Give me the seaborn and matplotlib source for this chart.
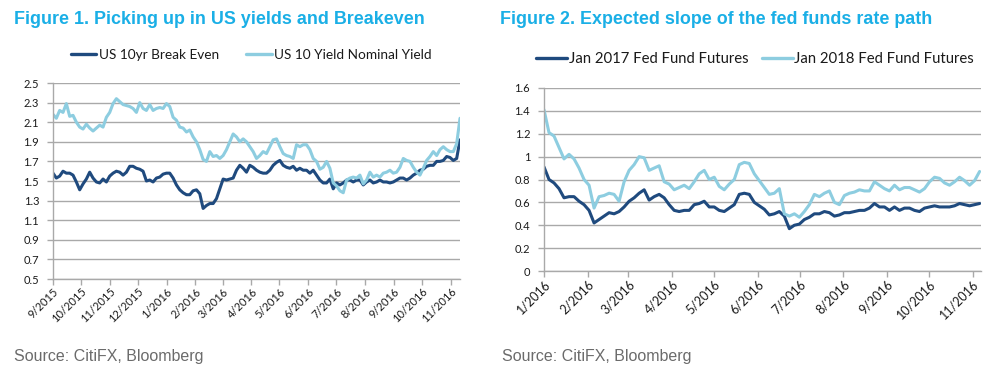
import numpy as np
import pandas as pd
import matplotlib
matplotlib.use('Agg')
import matplotlib.pyplot as plt
import matplotlib.dates as mdates
from matplotlib.ticker import FuncFormatter
from matplotlib.lines import Line2D
import seaborn as sns

# ---------------- data ----------------
left_dates = pd.date_range('2015-09-01', '2016-11-11', periods=123)
breakeven = [
    1.58, 1.53, 1.55, 1.60, 1.58, 1.58, 1.56, 1.49, 1.41, 1.47,
    1.52, 1.59, 1.53, 1.49, 1.48, 1.52, 1.49, 1.55, 1.58, 1.60,
    1.59, 1.56, 1.59, 1.65, 1.65, 1.63, 1.62, 1.60, 1.50, 1.51,
    1.49, 1.53, 1.54, 1.57, 1.58, 1.58, 1.53, 1.46, 1.41, 1.38,
    1.36, 1.36, 1.40, 1.41, 1.37, 1.22, 1.25, 1.27, 1.27, 1.32,
    1.42, 1.52, 1.51, 1.52, 1.53, 1.61, 1.66, 1.63, 1.59, 1.66,
    1.64, 1.61, 1.59, 1.58, 1.58, 1.61, 1.66, 1.69, 1.71, 1.66,
    1.64, 1.63, 1.65, 1.61, 1.63, 1.61, 1.61, 1.58, 1.61, 1.56,
    1.51, 1.48, 1.48, 1.52, 1.42, 1.48, 1.46, 1.48, 1.51, 1.51,
    1.49, 1.51, 1.51, 1.46, 1.49, 1.51, 1.48, 1.49, 1.51, 1.49,
    1.49, 1.48, 1.49, 1.51, 1.53, 1.53, 1.51, 1.53, 1.56, 1.58,
    1.61, 1.62, 1.65, 1.66, 1.66, 1.70, 1.70, 1.71, 1.75, 1.74,
    1.71, 1.73, 1.92,
]
nominal = [
    2.18, 2.14, 2.22, 2.20, 2.29, 2.16, 2.17, 2.10, 2.05, 2.03,
    2.08, 2.04, 2.01, 2.04, 2.07, 2.05, 2.15, 2.20, 2.29, 2.34,
    2.31, 2.28, 2.27, 2.26, 2.24, 2.20, 2.30, 2.24, 2.22, 2.28,
    2.22, 2.24, 2.25, 2.24, 2.29, 2.26, 2.15, 2.12, 2.05, 2.04,
    2.00, 2.02, 1.95, 1.90, 1.82, 1.72, 1.70, 1.80, 1.75, 1.76,
    1.73, 1.76, 1.82, 1.90, 1.98, 1.95, 1.90, 1.93, 1.90, 1.85,
    1.80, 1.73, 1.76, 1.80, 1.78, 1.85, 1.92, 1.93, 1.85, 1.78,
    1.76, 1.75, 1.73, 1.87, 1.85, 1.87, 1.87, 1.82, 1.73, 1.70,
    1.62, 1.64, 1.70, 1.63, 1.48, 1.45, 1.40, 1.38, 1.51, 1.53,
    1.54, 1.53, 1.56, 1.47, 1.51, 1.59, 1.54, 1.56, 1.54, 1.58,
    1.59, 1.61, 1.58, 1.59, 1.64, 1.73, 1.71, 1.70, 1.64, 1.59,
    1.56, 1.63, 1.71, 1.75, 1.80, 1.76, 1.82, 1.85, 1.82, 1.80,
    1.80, 1.88, 2.14,
]
left_labels = ['US 10yr Break Even', 'US 10 Yield Nominal Yield']
left_yticks = [0.5, 0.7, 0.9, 1.1, 1.3, 1.5, 1.7, 1.9, 2.1, 2.3, 2.5]

right_dates = pd.date_range('2016-01-01', '2016-11-06', periods=88)
ff_2017 = [
    0.91, 0.80, 0.77, 0.72, 0.64, 0.65, 0.65, 0.61, 0.58, 0.53,
    0.42, 0.45, 0.48, 0.51, 0.50, 0.52, 0.56, 0.61, 0.64, 0.68,
    0.71, 0.62, 0.65, 0.67, 0.64, 0.58, 0.53, 0.52, 0.53, 0.53,
    0.58, 0.59, 0.61, 0.56, 0.56, 0.53, 0.52, 0.55, 0.58, 0.67,
    0.68, 0.67, 0.60, 0.57, 0.54, 0.49, 0.50, 0.52, 0.48, 0.37,
    0.40, 0.41, 0.45, 0.47, 0.50, 0.50, 0.52, 0.51, 0.48, 0.49,
    0.51, 0.51, 0.52, 0.53, 0.53, 0.55, 0.59, 0.56, 0.56, 0.53,
    0.56, 0.53, 0.55, 0.55, 0.53, 0.52, 0.55, 0.56, 0.57, 0.56,
    0.56, 0.56, 0.57, 0.59, 0.58, 0.57, 0.58, 0.59,
]
ff_2018 = [
    1.41, 1.21, 1.18, 1.08, 0.98, 1.02, 0.98, 0.90, 0.80, 0.75,
    0.55, 0.65, 0.66, 0.68, 0.67, 0.61, 0.78, 0.88, 0.93, 1.00,
    0.99, 0.88, 0.90, 0.92, 0.78, 0.76, 0.71, 0.73, 0.75, 0.72,
    0.78, 0.85, 0.88, 0.80, 0.82, 0.74, 0.71, 0.76, 0.80, 0.93,
    0.95, 0.94, 0.85, 0.79, 0.73, 0.67, 0.68, 0.72, 0.50, 0.48,
    0.50, 0.47, 0.52, 0.58, 0.67, 0.65, 0.68, 0.70, 0.60, 0.58,
    0.66, 0.68, 0.69, 0.71, 0.70, 0.70, 0.78, 0.75, 0.72, 0.70,
    0.75, 0.71, 0.73, 0.73, 0.71, 0.69, 0.72, 0.78, 0.82, 0.81,
    0.77, 0.75, 0.78, 0.82, 0.79, 0.75, 0.79, 0.87,
]
right_labels = ['Jan 2017 Fed Fund Futures', 'Jan 2018 Fed Fund Futures']
right_yticks = [0, 0.2, 0.4, 0.6, 0.8, 1.0, 1.2, 1.4, 1.6]

titles = ['Figure 1. Picking up in US yields and Breakeven',
          'Figure 2. Expected slope of the fed funds rate path']
source = 'Source: CitiFX, Bloomberg'

# ---------------- style ----------------
DARK = '#1F4A7E'
LIGHT = '#8DCDE0'
GRID = '#A9A9A9'
TITLE_C = '#1AAFE6'
TXT = '#1A1A1A'

sns.set_style('white')
plt.rcParams['font.family'] = ['Lato', 'DejaVu Sans']

W, H = 987, 375
fig = plt.figure(figsize=(W / 100, H / 100), dpi=100)
ax1 = fig.add_axes([53 / W, 1 - 279 / H, 407 / W, 196 / H])
ax2 = fig.add_axes([544 / W, 1 - 271 / H, 437 / W, 183 / H])


def draw(ax, dates, s1, s2, labels, yticks, xend, xsize):
    df = pd.DataFrame({'date': dates, labels[0]: s1, labels[1]: s2})
    long = df.melt(id_vars='date', var_name='series', value_name='value')
    sns.lineplot(data=long, x='date', y='value', hue='series',
                 hue_order=labels, palette=[DARK, LIGHT], linewidth=2.2,
                 ax=ax, legend=False)
    ax.set_xlim(dates[0], pd.Timestamp(xend))
    ax.set_ylim(yticks[0], yticks[-1])
    ax.set_yticks(yticks)
    ax.yaxis.set_major_formatter(FuncFormatter(lambda v, p: f'{v:g}'))
    ax.xaxis.set_major_locator(mdates.MonthLocator())
    ax.xaxis.set_major_formatter(FuncFormatter(
        lambda v, p: f'{mdates.num2date(v).month}/{mdates.num2date(v).year}'))
    ax.set_xlabel('')
    ax.set_ylabel('')
    ax.grid(False)
    ax.yaxis.grid(True, color=GRID, linewidth=1.0)
    ax.set_axisbelow(True)
    for s in ['top', 'right']:
        ax.spines[s].set_visible(False)
    for s in ['left', 'bottom']:
        ax.spines[s].set_color(GRID)
        ax.spines[s].set_linewidth(1.0)
    ax.tick_params(axis='x', direction='out', length=4, width=1, color=GRID,
                   labelsize=xsize, labelcolor=TXT, pad=1, bottom=True)
    ax.tick_params(axis='y', direction='out', length=4, width=1, color=GRID,
                   labelsize=8, labelcolor=TXT, pad=6, left=True)
    for lab in ax.get_xticklabels():
        lab.set_rotation(45)
        lab.set_ha('right')
        lab.set_rotation_mode('anchor')


draw(ax1, left_dates, breakeven, nominal, left_labels, left_yticks, '2016-11-11', 8)
draw(ax2, right_dates, ff_2017, ff_2018, right_labels, right_yticks, '2016-11-07', 9)

# legends
h = [Line2D([], [], color=DARK, linewidth=2.4), Line2D([], [], color=LIGHT, linewidth=2.4)]
fig.legend(h, left_labels, loc='center', bbox_to_anchor=(251 / W, 1 - 55 / H),
           ncol=2, frameon=False, fontsize=9.8, handlelength=1.9, handletextpad=0.15,
           columnspacing=2.0, labelcolor=TXT)
fig.legend(h, right_labels, loc='center', bbox_to_anchor=(755 / W, 1 - 59 / H),
           ncol=2, frameon=False, fontsize=10.7, handlelength=2.1, handletextpad=0.1,
           columnspacing=0.9, labelcolor=TXT)

# titles
fig.text(14 / W, 1 - 20 / H, titles[0], fontsize=12.9, fontweight='bold',
         color=TITLE_C, family=['Liberation Sans', 'DejaVu Sans'], va='center', ha='left')
fig.text(500 / W, 1 - 20 / H, titles[1], fontsize=12.9, fontweight='bold',
         color=TITLE_C, family=['Liberation Sans', 'DejaVu Sans'], va='center', ha='left')

# sources
fig.text(14 / W, 1 - 357 / H, source, fontsize=11.5, color='#6B6B6B',
         family=['Liberation Sans', 'DejaVu Sans'], va='center')
fig.text(502 / W, 1 - 357 / H, source, fontsize=11.5, color='#6B6B6B',
         family=['Liberation Sans', 'DejaVu Sans'], va='center')

fig.savefig('out.png', dpi=100)
